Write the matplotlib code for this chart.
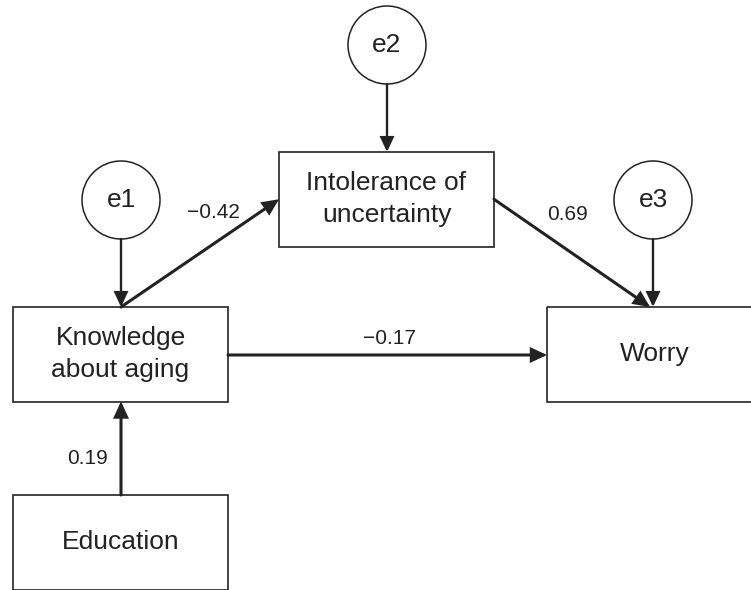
import matplotlib
matplotlib.use("Agg")
import matplotlib.pyplot as plt
from matplotlib.patches import Rectangle, Ellipse, FancyArrowPatch

# 节点与路径系数
box_names = ["Intolerance of\nuncertainty", "Knowledge\nabout aging", "Worry", "Education"]
error_names = ["e2", "e1", "e3"]
path_from = ["Knowledge\nabout aging", "Intolerance of\nuncertainty", "Knowledge\nabout aging", "Education"]
path_to = ["Intolerance of\nuncertainty", "Worry", "Worry", "Knowledge\nabout aging"]
path_coef = ["\u22120.42", "0.69", "\u22120.17", "0.19"]

# 版面位置（像素，左上为原点）
box_xy = {
    "Intolerance of\nuncertainty": (279, 152),
    "Knowledge\nabout aging": (13, 307),
    "Worry": (547, 307),
    "Education": (13, 495),
}
box_w, box_h = 215, 94.5
err_xy = {"e2": (387, 45), "e1": (121, 200), "e3": (653, 200)}
err_r = 39
err_target = {"e2": "Intolerance of\nuncertainty", "e1": "Knowledge\nabout aging", "e3": "Worry"}
label_xy = [(213, 212), (568, 214), (390, 338), (88, 459)]

ink = "#222222"
plt.rcParams["font.family"] = ["Liberation Sans", "DejaVu Sans"]

fig = plt.figure(figsize=(7.51, 5.90), dpi=100)
ax = fig.add_axes([0, 0, 1, 1])
ax.set_xlim(0, 751)
ax.set_ylim(590, 0)
ax.axis("off")


def arrow(p0, p1, lw=2.2):
    a = FancyArrowPatch(p0, p1, arrowstyle="-|>,head_length=0.58,head_width=0.27",
                        mutation_scale=15, shrinkA=0, shrinkB=0, lw=lw,
                        color=ink, joinstyle="miter", zorder=3)
    ax.add_patch(a)


for name in box_names:
    x, y = box_xy[name]
    ax.add_patch(Rectangle((x, y), box_w, box_h, fill=False, ec=ink, lw=1.2, zorder=2))
    ax.text(x + box_w / 2, y + box_h / 2, name, ha="center", va="center",
            fontsize=19, color=ink, linespacing=1.4)

for name in error_names:
    cx, cy = err_xy[name]
    ax.add_patch(Ellipse((cx, cy), 2 * err_r, 2 * err_r, fill=False, ec=ink, lw=1.1, zorder=2))
    ax.text(cx, cy, name, ha="center", va="center", fontsize=19, color=ink)
    bx, by = box_xy[err_target[name]]
    arrow((cx, cy + err_r), (cx, by), lw=1.7)

# 路径
k_x, k_y = box_xy["Knowledge\nabout aging"]
i_x, i_y = box_xy["Intolerance of\nuncertainty"]
w_x, w_y = box_xy["Worry"]
e_x, e_y = box_xy["Education"]
ends = {
    0: ((k_x + 108, k_y), (i_x, i_y + box_h / 2)),
    1: ((i_x + box_w, i_y + box_h / 2), (w_x + 103, w_y)),
    2: ((k_x + box_w, k_y + 48), (w_x, w_y + 48)),
    3: ((e_x + 108, e_y), (k_x + 108, k_y + box_h)),
}
for i in range(len(path_coef)):
    p0, p1 = ends[i]
    arrow(p0, p1, lw=2.2)
    ax.text(label_xy[i][0], label_xy[i][1], path_coef[i], ha="center", va="center",
            fontsize=15, color=ink)

fig.savefig("out.png", dpi=100)
